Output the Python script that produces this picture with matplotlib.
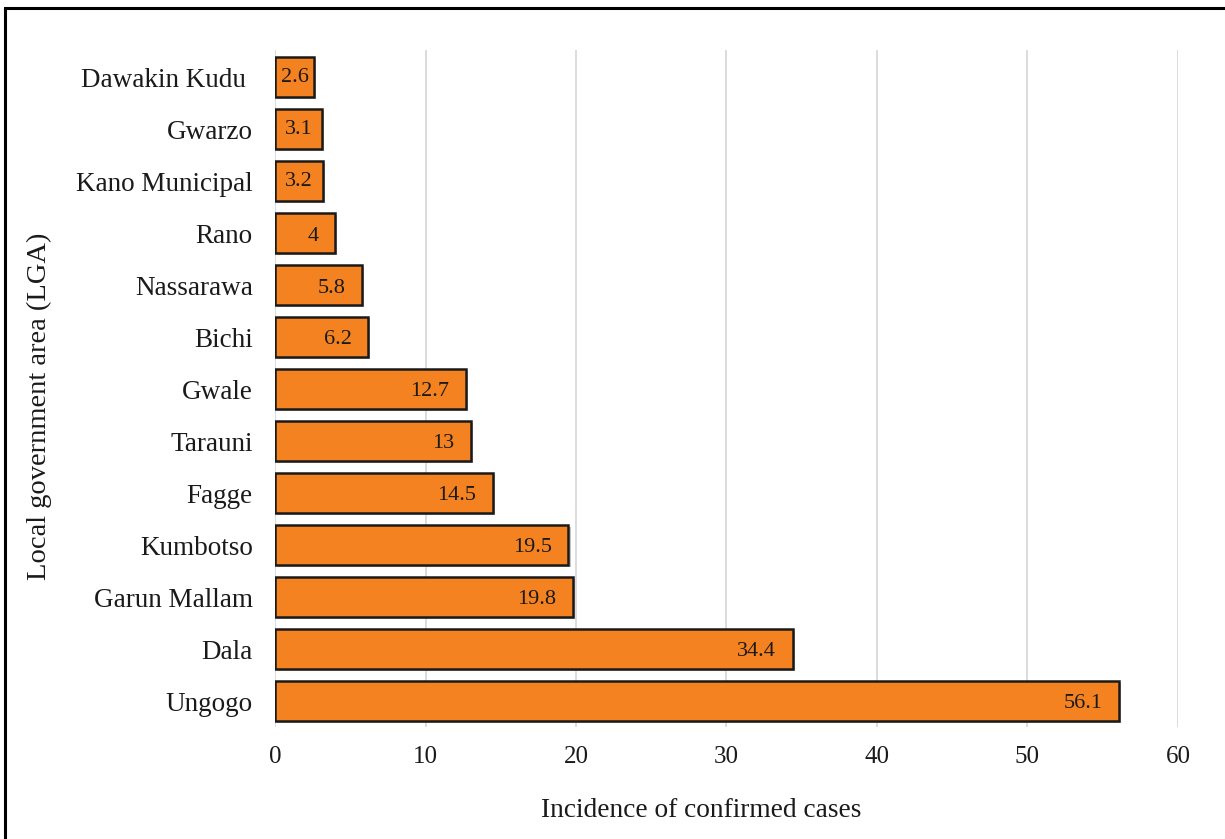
import matplotlib.pyplot as plt
import matplotlib.patheffects as pe
from matplotlib.patches import Rectangle

# Incidence by local government area, top to bottom
lga = ['Dawakin Kudu ', 'Gwarzo', 'Kano Municipal', 'Rano', 'Nassarawa', 'Bichi',
       'Gwale', 'Tarauni', 'Fagge', 'Kumbotso', 'Garun Mallam', 'Dala', 'Ungogo']
incidencia = [2.6, 3.1, 3.2, 4, 5.8, 6.2, 12.7, 13, 14.5, 19.5, 19.8, 34.4, 56.1]
xticks = [0, 10, 20, 30, 40, 50, 60]

plt.rcParams['font.family'] = ['Liberation Serif', 'DejaVu Serif']

fig = plt.figure(figsize=(12.25, 8.39), dpi=100)
ax = fig.add_axes([0.2245, 0.1335, 0.7371, 0.8065])

pos = list(range(len(lga)))
barras = ax.barh(pos, incidencia, height=0.77, color='#F58220',
                 edgecolor='#1a1a1a', linewidth=1.8, zorder=3)
for b in barras:
    b.set_path_effects([pe.SimplePatchShadow(offset=(1.5, -1.5), shadow_rgbFace='#888888', alpha=0.5),
                        pe.Normal()])

# etiquetas: dentro del extremo, o centradas si la barra es muy corta
for b, v in zip(barras, incidencia):
    yc = b.get_y() + b.get_height() / 2
    if v < 3.5:
        ax.text(v / 2, yc, f'{v:g}', ha='center', va='center',
                fontsize=16, color='#1a1a1a', zorder=4)
    else:
        ax.annotate(f'{v:g}', (v, yc), xytext=(-12, -2), textcoords='offset points',
                    ha='right', va='center', fontsize=16, color='#1a1a1a', zorder=4)

ax.set_yticks(pos)
ax.set_yticklabels(lga, fontsize=19.5, color='#1a1a1a')
ax.set_ylim(len(lga) - 0.5, -0.52)
ax.set_xlim(0, 60)
ax.set_xticks(xticks)
ax.set_xticklabels([str(t) for t in xticks], fontsize=18, color='#1a1a1a')
ax.tick_params(length=0)
ax.tick_params(axis='x', pad=14)
ax.tick_params(axis='y', pad=16)
ax.xaxis.grid(True, color='#d9d9d9', linewidth=1.3, zorder=0)
ax.set_axisbelow(True)
for s in ax.spines.values():
    s.set_visible(False)

ax.set_xlabel('Incidence of confirmed cases', fontsize=19.7, color='#1a1a1a')
ax.xaxis.set_label_coords(0.472, -0.105)
ax.set_ylabel('Local government area (LGA)', fontsize=20.5, color='#1a1a1a')
ax.yaxis.set_label_coords(-0.247, 0.474)

# marco exterior de la figura
fig.patches.append(Rectangle((0.004, -0.05), 1.1, 1.04, transform=fig.transFigure,
                             fill=False, edgecolor='black', linewidth=2.2))

fig.savefig('out.png', dpi=100)
